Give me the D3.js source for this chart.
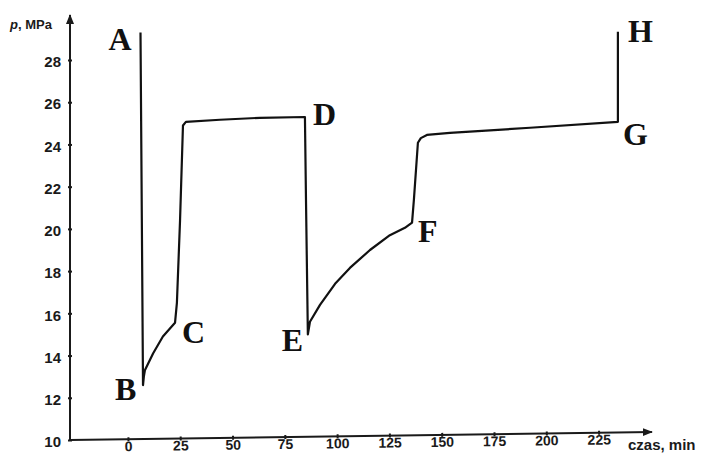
<!DOCTYPE html>
<html>
<head>
<meta charset="utf-8">
<script src="https://cdn.jsdelivr.net/npm/d3@7"></script>
<style>
  html, body { margin: 0; padding: 0; background: #fff; }
  svg { display: block; }
</style>
</head>
<body>
<div id="chart"></div>
<script>
// czas, min
const czas = [6.0, 7.2, 7.6, 8.1, 12, 16.7, 22.5, 23.4, 24.9, 26.3, 27.7, 44, 63, 84.6,
  85.1, 86, 87, 91.8, 99, 106.1, 115.7, 125.2, 132.4, 135.8,
  136.7, 138.6, 140, 142.9, 153.9, 192.2, 234.2, 234.2];
// p, MPa
const cisnienie = [29.3, 12.6, 13.0, 13.3, 14.1, 14.9, 15.55, 16.5, 20.4, 24.9, 25.07, 25.17, 25.26, 25.3,
  21.4, 15.0, 15.6, 16.4, 17.4, 18.15, 19.0, 19.7, 20.05, 20.3,
  21.4, 24.08, 24.3, 24.45, 24.55, 24.79, 25.07, 29.34];

const punkty = ['A', 'B', 'C', 'D', 'E', 'F', 'G', 'H'];
const punktyIdx = [0, 1, 6, 13, 15, 23, 30, 31];

const xTicks = [0, 25, 50, 75, 100, 125, 150, 175, 200, 225];
const yTicks = [10, 12, 14, 16, 18, 20, 22, 24, 26, 28];

const width = 702, height = 455;

const x = d3.scaleLinear().domain([-27.7, 250.5]).range([70, 652]);
const y = d3.scaleLinear().domain([10, 28]).range([440, 60]);

const svg = d3.select("#chart").append("svg")
  .attr("width", width)
  .attr("height", height);

svg.append("defs").append("marker")
  .attr("id", "arrow")
  .attr("viewBox", "0 0 10 10")
  .attr("refX", 9).attr("refY", 5)
  .attr("markerWidth", 10).attr("markerHeight", 10)
  .attr("markerUnits", "userSpaceOnUse")
  .attr("orient", "auto")
  .append("path")
  .attr("d", "M0,1L10,5L0,9Z")
  .attr("fill", "#1a1a1a");

const ink = "#1a1a1a";

// y axis
const yAxis = svg.append("g")
  .attr("transform", `translate(${x(-27.7)},0)`)
  .call(d3.axisLeft(y).tickValues(yTicks).tickSize(2).tickPadding(7).tickFormat(d3.format("d")))
  .call(g => g.select(".domain").remove());
yAxis.selectAll(".tick line").attr("x2", 2).attr("x1", -2).attr("stroke", ink).attr("stroke-width", 2);
yAxis.selectAll("text")
  .attr("font-family", "Liberation Sans, Arial, sans-serif")
  .attr("font-size", 15)
  .attr("font-weight", "bold")
  .attr("fill", ink)
  .attr("dy", "0.45em");
yAxis.append("line")
  .attr("x1", 0).attr("x2", 0)
  .attr("y1", y(10)).attr("y2", 15)
  .attr("stroke", ink).attr("stroke-width", 2)
  .attr("marker-end", "url(#arrow)");

svg.append("text")
  .attr("x", 10).attr("y", 29)
  .attr("font-family", "Liberation Sans, Arial, sans-serif")
  .attr("font-size", 13)
  .attr("font-weight", "bold")
  .attr("fill", ink)
  .call(t => t.append("tspan").attr("font-style", "italic").text("p"))
  .call(t => t.append("tspan").text(", MPa"));

// x axis (skan lekko przekrzywiony)
const xAxis = svg.append("g")
  .attr("transform", `translate(0,${y(10)}) rotate(-0.79, ${x(-27.7)}, 0)`)
  .call(d3.axisBottom(x).tickValues(xTicks).tickSize(2).tickPadding(0).tickFormat(d3.format("d")))
  .call(g => g.select(".domain").remove());
xAxis.selectAll(".tick line").attr("y1", -2).attr("y2", 2).attr("stroke", ink).attr("stroke-width", 2);
xAxis.selectAll("text")
  .attr("font-family", "Liberation Sans, Arial, sans-serif")
  .attr("font-size", 14)
  .attr("font-weight", "bold")
  .attr("fill", ink);
xAxis.append("line")
  .attr("x1", x(-27.7)).attr("x2", x(250.5))
  .attr("y1", 0).attr("y2", 0)
  .attr("stroke", ink).attr("stroke-width", 2)
  .attr("marker-end", "url(#arrow)");

svg.append("text")
  .attr("x", 628).attr("y", 450)
  .attr("font-family", "Liberation Sans, Arial, sans-serif")
  .attr("font-size", 15)
  .attr("font-weight", "bold")
  .attr("fill", ink)
  .text("czas, min");

// krzywa
const dane = czas.map((t, i) => ({ t, p: cisnienie[i] }));

const line = d3.line()
  .x(d => x(d.t))
  .y(d => y(d.p))
  .curve(d3.curveLinear);

svg.append("path")
  .datum(dane)
  .attr("fill", "none")
  .attr("stroke", "#111")
  .attr("stroke-width", 2.2)
  .attr("stroke-linejoin", "round")
  .attr("d", line);

// etykiety punktów
const offsets = {
  A: [-32, 17], B: [-28, 15], C: [7, 20], D: [8, 8],
  E: [-26, 17], F: [6, 19], G: [5, 23], H: [10, 10]
};

svg.append("g")
  .attr("font-family", "Liberation Serif, Times New Roman, serif")
  .attr("font-size", 32)
  .attr("font-weight", "bold")
  .attr("fill", "#111")
  .selectAll("text")
  .data(punkty)
  .join("text")
  .attr("x", (d, i) => x(czas[punktyIdx[i]]) + offsets[d][0])
  .attr("y", (d, i) => y(cisnienie[punktyIdx[i]]) + offsets[d][1])
  .text(d => d);
</script>
</body>
</html>
